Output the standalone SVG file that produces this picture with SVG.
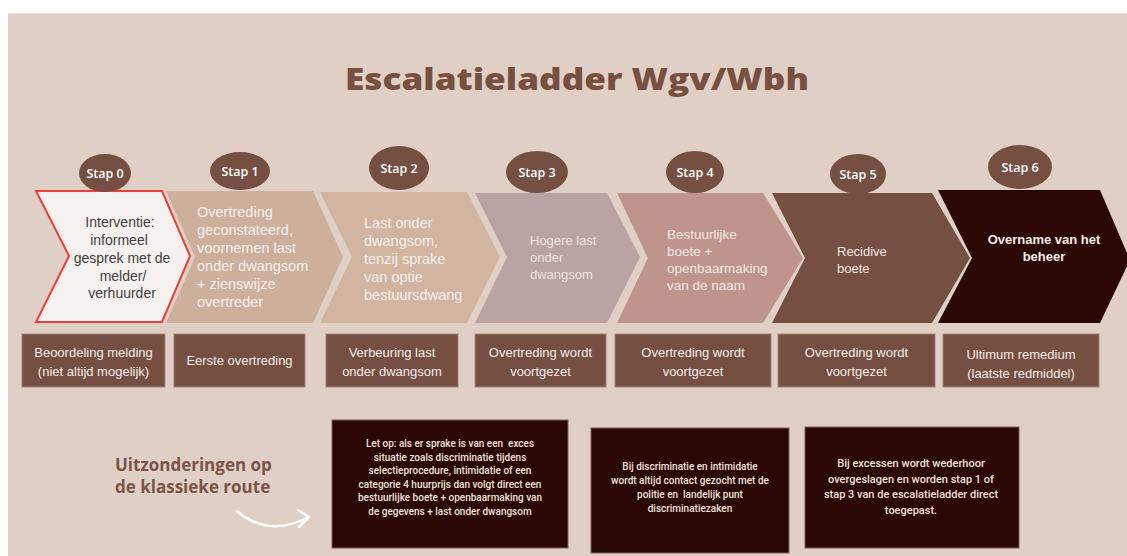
<svg xmlns="http://www.w3.org/2000/svg" width="1127" height="556" viewBox="0 0 1127 556">
<style>
.step{font-family:"Open Sans","Liberation Sans",sans-serif;font-size:12.5px;font-weight:600;fill:#ffffff;text-anchor:middle}
.ell{fill:#744f42}
.t{font-family:"Liberation Sans",Arial,sans-serif}
.w{fill:#f6efeb}
.box{fill:#744f42;stroke:#a3857a;stroke-width:1}
.btxt{font-family:"Liberation Sans",Arial,sans-serif;font-size:13px;fill:#f4ece8;text-anchor:middle}
.dark{fill:#2a0702;stroke:#7d6259;stroke-width:1}
.dtxt{font-family:Roboto,"Liberation Sans",sans-serif;font-weight:500;fill:#efe2dc;text-anchor:middle}
</style>
<rect x="0" y="0" width="1127" height="556" fill="#ffffff"/>
<rect x="8" y="13" width="1119" height="543" fill="#dfcfc5"/>
<line x1="8" y1="13.5" x2="1127" y2="13.5" stroke="#f0dede" stroke-width="1"/>

<text x="577" y="90" font-family="'Open Sans','Liberation Sans',sans-serif" font-size="30" font-weight="800" fill="#77503f" text-anchor="middle" textLength="464" lengthAdjust="spacingAndGlyphs">Escalatieladder Wgv/Wbh</text>

<g id="stap0">
<polygon points="36,191 162,191 190,256 162,322 36,322 69,256" fill="#f5f1ef" stroke="#e8403a" stroke-width="2"/>
<ellipse class="ell" cx="105" cy="173" rx="26" ry="19"/>
<text class="step" x="105" y="177.5">Stap 0</text>
<g class="t" font-size="14" fill="#474040" text-anchor="middle">
<text x="120" y="227">Interventie:</text>
<text x="119" y="245">informeel</text>
<text x="122" y="263">gesprek met de</text>
<text x="123" y="281">melder/</text>
<text x="122" y="298">verhuurder</text>
</g>
</g>

<g id="stap1">
<polygon points="166,191 313,191 343,257 313,323 166,323 195,257" fill="#cdb09b"/>
<ellipse class="ell" cx="240" cy="171" rx="30" ry="19"/>
<text class="step" x="240" y="175.5">Stap 1</text>
<g class="t w" font-size="14.5">
<text x="197" y="217">Overtreding</text>
<text x="197" y="235">geconstateerd,</text>
<text x="197" y="253">voornemen last</text>
<text x="197" y="271">onder dwangsom</text>
<text x="197" y="289">+ zienswijze</text>
<text x="197" y="307">overtreder</text>
</g>
</g>

<g id="stap2">
<polygon points="320,192 467,192 500,257 467,323 320,323 352,257" fill="#d1b5a1"/>
<ellipse class="ell" cx="399" cy="168" rx="30" ry="22"/>
<text class="step" x="399" y="172.5">Stap 2</text>
<g class="t w" font-size="14.5">
<text x="364" y="228">Last onder</text>
<text x="364" y="246">dwangsom,</text>
<text x="364" y="264">tenzij sprake</text>
<text x="364" y="282">van optie</text>
<text x="364" y="300">bestuursdwang</text>
</g>
</g>

<g id="stap3">
<polygon points="475,193 607,193 640,257 607,323 475,323 507,257" fill="#b9a4a3"/>
<ellipse class="ell" cx="537" cy="172" rx="31" ry="21"/>
<text class="step" x="537" y="176.5">Stap 3</text>
<g class="t" font-size="13" fill="#ece2de">
<text x="530" y="245">Hogere last</text>
<text x="530" y="262">onder</text>
<text x="530" y="279">dwangsom</text>
</g>
</g>

<g id="stap4">
<polygon points="617,193 763,193 803,258 763,323 617,323 648,258" fill="#be948d"/>
<ellipse class="ell" cx="695" cy="172" rx="29" ry="21"/>
<text class="step" x="695" y="176.5">Stap 4</text>
<g class="t" font-size="13.5" fill="#f3e8e4">
<text x="667" y="239">Bestuurlijke</text>
<text x="667" y="256">boete +</text>
<text x="667" y="273">openbaarmaking</text>
<text x="667" y="290">van de naam</text>
</g>
</g>

<g id="stap5">
<polygon points="772,193 932,193 970,258 932,323 772,323 805,258" fill="#764f43"/>
<ellipse class="ell" cx="858" cy="174" rx="28" ry="20"/>
<text class="step" x="858" y="178.5">Stap 5</text>
<g class="t" font-size="13" fill="#f0e6e2">
<text x="837" y="256">Recidive</text>
<text x="837" y="273">boete</text>
</g>
</g>

<g id="stap6">
<polygon points="938,190 1100,190 1130,260 1100,323 938,323 972,258" fill="#2b0803"/>
<ellipse class="ell" cx="1020" cy="167" rx="32" ry="22"/>
<text class="step" x="1020" y="171.5">Stap 6</text>
<g class="t" font-size="13" font-weight="bold" fill="#f4ece9" text-anchor="middle">
<text x="1044" y="244">Overname van het</text>
<text x="1044" y="261">beheer</text>
</g>
</g>

<g id="box0"><rect class="box" x="22" y="334" width="143" height="53"/>
<text class="btxt" x="93.5" y="357">Beoordeling melding</text><text class="btxt" x="93.5" y="376">(niet altijd mogelijk)</text></g>
<g id="box1"><rect class="box" x="174" y="334" width="131" height="53"/>
<text class="btxt" x="239.5" y="365">Eerste overtreding</text></g>
<g id="box2"><rect class="box" x="326" y="334" width="132" height="53"/>
<text class="btxt" x="392" y="357">Verbeuring last</text><text class="btxt" x="392" y="376">onder dwangsom</text></g>
<g id="box3"><rect class="box" x="475" y="334" width="131" height="53"/>
<text class="btxt" x="540.5" y="357">Overtreding wordt</text><text class="btxt" x="540.5" y="376">voortgezet</text></g>
<g id="box4"><rect class="box" x="615" y="334" width="156" height="53"/>
<text class="btxt" x="693" y="357">Overtreding wordt</text><text class="btxt" x="693" y="376">voortgezet</text></g>
<g id="box5"><rect class="box" x="778" y="334" width="157" height="53"/>
<text class="btxt" x="856.5" y="357">Overtreding wordt</text><text class="btxt" x="856.5" y="376">voortgezet</text></g>
<g id="box6"><rect class="box" x="943" y="334" width="156" height="53"/>
<text class="btxt" x="1021" y="359">Ultimum remedium</text><text class="btxt" x="1021" y="378">(laatste redmiddel)</text></g>

<g id="uitzonderingen">
<text font-family="'Open Sans','Liberation Sans',sans-serif" font-size="17" font-weight="700" fill="#7a5548">
<tspan x="115" y="471">Uitzonderingen op</tspan><tspan x="115" y="493">de klassieke route</tspan></text>
</g>

<g id="connectors" fill="none" stroke="#ffffff" stroke-width="2.5" stroke-linecap="round" stroke-linejoin="round">
<path d="M237,511 Q268,538 309,517"/>
<path d="M298,510 L309,517 L299,527"/>
</g>

<g id="note1"><rect class="dark" x="332" y="420" width="236" height="128"/>
<g class="dtxt" font-size="10">
<text x="450" y="447" xml:space="preserve">Let op: als er sprake is van een  exces</text>
<text x="450" y="460.5">situatie zoals discriminatie tijdens</text>
<text x="450" y="474">selectieprocedure, intimidatie of een</text>
<text x="450" y="487.5">categorie 4 huurprijs dan volgt direct een</text>
<text x="450" y="501">bestuurlijke boete + openbaarmaking van</text>
<text x="450" y="514.5">de gegevens + last onder dwangsom</text>
</g></g>

<g id="note2"><rect class="dark" x="591" y="428" width="198" height="125"/>
<g class="dtxt" font-size="10">
<text x="690" y="470">Bij discriminatie en intimidatie</text>
<text x="690" y="484">wordt altijd contact gezocht met de</text>
<text x="690" y="498" xml:space="preserve">politie en  landelijk punt</text>
<text x="690" y="512">discriminatiezaken</text>
</g></g>

<g id="note3"><rect class="dark" x="805" y="427" width="214" height="121"/>
<g class="dtxt" font-size="11">
<text x="911" y="467">Bij excessen wordt wederhoor</text>
<text x="911" y="482.5">overgeslagen en worden stap 1 of</text>
<text x="911" y="498">stap 3 van de escalatieladder direct</text>
<text x="911" y="513.5">toegepast.</text>
</g></g>
</svg>
